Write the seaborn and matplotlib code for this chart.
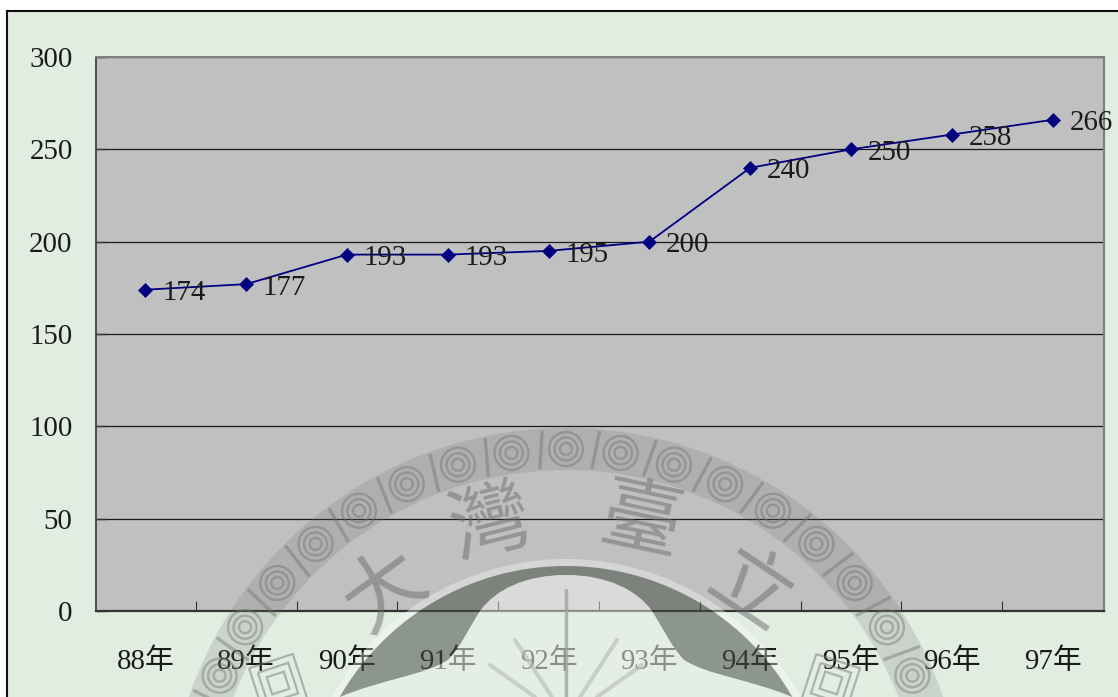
import numpy as np
import matplotlib
matplotlib.use("Agg")
import matplotlib.pyplot as plt
from matplotlib.patches import Circle, Wedge, Polygon, Rectangle, PathPatch
from matplotlib.path import Path
from matplotlib.ticker import FixedLocator
import seaborn as sns

years = ["88年", "89年", "90年", "91年", "92年", "93年", "94年", "95年", "96年", "97年"]
counts = [174, 177, 193, 193, 195, 200, 240, 250, 258, 266]
y_ticks = [0, 50, 100, 150, 200, 250, 300]
seal_chars = ["大", "灣", "臺", "立"]

W, H = 1118, 697
PAGE = "#E2EDE2"
PLOT = "#C0C0C0"
NAVY = "#000080"

sns.set_theme(style="white")
plt.rcParams["font.family"] = ["Liberation Serif", "Noto Sans CJK TC", "DejaVu Sans"]
FS = 20.8

fig = plt.figure(figsize=(W / 100, H / 100), dpi=100, facecolor="white")


def box(l, t, r, b):
    return [l / W, 1 - b / H, (r - l) / W, (b - t) / H]


# framed page panel behind the chart
page = fig.add_axes(box(6.5, 10.5, W + 4, H + 4), zorder=0)
page.set_facecolor(PAGE)
page.set_xticks([])
page.set_yticks([])
for s in page.spines.values():
    s.set_color("#111111")
    s.set_linewidth(1.5)

ax = fig.add_axes(box(96, 57, 1104, 611), zorder=1)
ax.set_facecolor(PLOT)
positions = np.arange(len(years))
sns.lineplot(x=positions, y=counts, ax=ax, color=NAVY, linewidth=1.3, marker="D",
             markersize=7.2, markeredgecolor=NAVY, markeredgewidth=0.5,
             errorbar=None, zorder=4, clip_on=False)
ax.set_xlim(-0.49, len(years) - 0.49)
ax.set_ylim(0, 300)
ax.set_xlabel("")
ax.set_ylabel("")

ax.set_yticks(y_ticks)
ax.yaxis.grid(True, color="#1a1a1a", linewidth=0.9)
ax.set_axisbelow(True)
ax.tick_params(axis="y", direction="in", length=7, width=1, color="#333333",
               labelsize=FS, labelcolor="#1a1a1a", pad=16.8, left=True)
ax.set_xticks(positions, years)
ax.xaxis.set_minor_locator(FixedLocator(positions[:-1] + 0.5))
ax.tick_params(axis="x", which="major", length=0, labelsize=FS, labelcolor="#1a1a1a", pad=27)
ax.tick_params(axis="x", which="minor", direction="in", length=7, width=0.8,
               color="#333333", bottom=True)

for name, col, lw in [("top", "#7f7f7f", 1.4), ("right", "#7f7f7f", 1.6),
                      ("left", "#444444", 1.3), ("bottom", "#333333", 1.6)]:
    ax.spines[name].set_visible(True)
    ax.spines[name].set_color(col)
    ax.spines[name].set_linewidth(lw)

for xp, v in zip(positions, counts):
    ax.annotate(str(v), (xp, v), xytext=(12, -2.6), textcoords="offset points",
                ha="left", va="center", fontsize=FS, color="#1a1a1a",
                annotation_clip=False, zorder=5)

# university seal laid faintly over the whole page
seal = fig.add_axes([0, 0, 1, 1], zorder=3)
seal.set_xlim(0, W)
seal.set_ylim(H, 0)
seal.axis("off")
seal.patch.set_alpha(0)
CX, CY = 566, 827
RING = "#707070"

seal.add_patch(Wedge((CX, CY), 399, 0, 360, width=42, facecolor="#6e6e6e", alpha=0.2, lw=0))
for deg in np.arange(-74.7, 75, 8.3):
    a = np.radians(deg)
    px, py = CX + 378 * np.sin(a), CY - 378 * np.cos(a)
    for rad in (17, 11.5, 6):
        seal.add_patch(Circle((px, py), rad, fill=False, edgecolor=RING,
                              linewidth=1.7, alpha=0.42))
    b = np.radians(deg + 4.15)
    seal.plot([CX + 360 * np.sin(b), CX + 396 * np.sin(b + 0.012)],
              [CY - 360 * np.cos(b), CY - 396 * np.cos(b + 0.012)],
              color=RING, lw=2.4, alpha=0.42)

for ch, (tx, ty), rot in zip(seal_chars, [(385, 590), (490, 525), (640, 523), (750, 592)],
                             [36, 14, -12, -34]):
    seal.text(tx, ty, ch, fontsize=58, color="#6a6a6a", alpha=0.5, rotation=rot,
              ha="center", va="center", family=["Noto Sans CJK TC"])

# emblem: pale ring, then a dark arch around a light flower
seal.add_patch(Wedge((CX, CY), 268, 0, 360, width=7, facecolor="white", alpha=0.35, lw=0))

flower = Path(
    [(566, 575), (525, 575), (495, 590), (480, 611),
     (468, 630), (462, 645), (448, 660),
     (425, 675), (380, 680), (340, 697),
     (792, 697),
     (752, 680), (707, 675), (684, 660),
     (670, 645), (664, 630), (652, 611),
     (637, 590), (607, 575), (566, 575)],
    [Path.MOVETO] + [Path.CURVE4] * 9 + [Path.LINETO] + [Path.CURVE4] * 9,
)
edge = flower.to_polygons(closed_only=False)[0]
right_start = int(np.argmax((edge[:, 0] == 792) & (edge[:, 1] == 697)))
left_end = int(np.argmax((edge[:, 0] == 340) & (edge[:, 1] == 697)))
inner = np.vstack([edge[right_start:], edge[1:left_end + 1]])

sweep = np.radians(np.linspace(-60.1, 60.1, 160))
outer = np.column_stack([CX + 261 * np.sin(sweep), CY - 261 * np.cos(sweep)])
seal.add_patch(Polygon(np.vstack([outer, inner]), closed=True,
                       facecolor="#465046", alpha=0.55, lw=0))

# the flower lightens the plot above the axis and veils the page below it
above = PathPatch(flower, facecolor="white", edgecolor="none", alpha=0.42)
seal.add_patch(above)
above.set_clip_path(Rectangle((300, 500), 532, 111, transform=seal.transData))
below = PathPatch(flower, facecolor="#E8F0E9", edgecolor="none", alpha=0.55)
seal.add_patch(below)
below.set_clip_path(Rectangle((300, 611), 532, 90, transform=seal.transData))

seal.plot([566, 566], [590, 697], color="#9aa39c", lw=2.5, alpha=0.75)
for x0, x1, y0 in [(515, 552, 640), (617, 580, 640), (490, 535, 665), (642, 597, 665)]:
    seal.plot([x0, x1], [y0, 697], color="#b4bcb5", lw=3, alpha=0.6)

# square stamps flanking the flower
for sx, tilt in ((255, -18), (808, 18)):
    for k in range(3):
        seal.add_patch(Rectangle((sx + k * 7, 660 + k * 7), 46 - k * 14, 46 - k * 14,
                                 angle=tilt, rotation_point="center", fill=False,
                                 edgecolor="#777777", lw=1.6, alpha=0.5))

fig.savefig("out.png", dpi=100, facecolor="white")
